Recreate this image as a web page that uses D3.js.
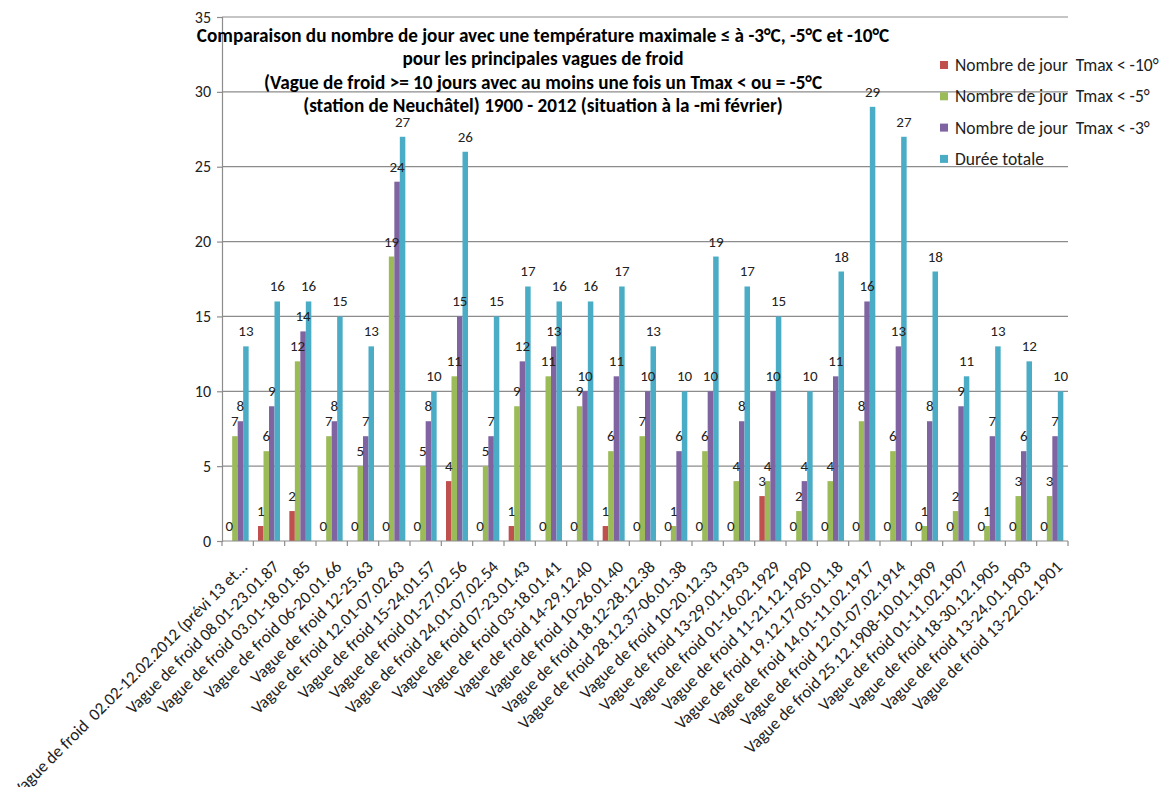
<!DOCTYPE html>
<html>
<head>
<meta charset="utf-8">
<script src="https://cdn.jsdelivr.net/npm/d3@7"></script>
<style>
  body { margin: 0; background: #fff; }
  svg { font-family: Carlito, Calibri, Lato, sans-serif; }
  text { white-space: pre; }
</style>
</head>
<body>
<div id="vis"></div>
<script>
const width = 1163;
const height = 787;

// categories (vagues de froid)
const categories = [
  'Vague de froid  02.02-12.02.2012 (prévi 13 et...',
  'Vague de froid 08.01-23.01.87',
  'Vague de froid 03.01-18.01.85',
  'Vague de froid 06-20.01.66',
  'Vague de froid 12-25.63',
  'Vague de froid 12.01-07.02.63',
  'Vague de froid 15-24.01.57',
  'Vague de froid 01-27.02.56',
  'Vague de froid 24.01-07.02.54',
  'Vague de froid 07-23.01.43',
  'Vague de froid 03-18.01.41',
  'Vague de froid 14-29.12.40',
  'Vague de froid 10-26.01.40',
  'Vague de froid 18.12-28.12.38',
  'Vague de froid 28.12.37-06.01.38',
  'Vague de froid 10-20.12.33',
  'Vague de froid 13-29.01.1933',
  'Vague de froid 01-16.02.1929',
  'Vague de froid 11-21.12.1920',
  'Vague de froid 19.12.17-05.01.18',
  'Vague de froid 14.01-11.02.1917',
  'Vague de froid 12.01-07.02.1914',
  'Vague de froid 25.12.1908-10.01.1909',
  'Vague de froid 01-11.02.1907',
  'Vague de froid 18-30.12.1905',
  'Vague de froid 13-24.01.1903',
  'Vague de froid 13-22.02.1901'
];

// series values
const jours10 = [0, 1, 2, 0, 0, 0, 0, 4, 0, 1, 0, 0, 1, 0, 0, 0, 0, 3, 0, 0, 0, 0, 0, 0, 0, 0, 0];
const jours5  = [7, 6, 12, 7, 5, 19, 5, 11, 5, 9, 11, 9, 6, 7, 1, 6, 4, 4, 2, 4, 8, 6, 1, 2, 1, 3, 3];
const jours3  = [8, 9, 14, 8, 7, 24, 8, 15, 7, 12, 13, 10, 11, 10, 6, 10, 8, 10, 4, 11, 16, 13, 8, 9, 7, 6, 7];
const duree   = [13, 16, 16, 15, 13, 27, 10, 26, 15, 17, 16, 16, 17, 13, 10, 19, 17, 15, 10, 18, 29, 27, 18, 11, 13, 12, 10];

const seriesNames = [
  'Nombre de jour  Tmax < -10°',
  'Nombre de jour  Tmax < -5°',
  'Nombre de jour  Tmax < -3°',
  'Durée totale'
];
const seriesValues = [jours10, jours5, jours3, duree];
const colors = ['#C0504D', '#9BBB59', '#8064A2', '#4BACC6'];

const yTicks = [0, 5, 10, 15, 20, 25, 30, 35];

const titleLines = [
  'Comparaison du nombre de jour avec une température maximale ≤ à -3°C, -5°C et -10°C',
  'pour les principales vagues de froid',
  '(Vague de froid >= 10 jours avec au moins une fois un Tmax < ou = -5°C',
  '(station de Neuchâtel) 1900 - 2012 (situation à la -mi février)'
];

const svg = d3.select('#vis')
  .append('svg')
  .attr('width', width)
  .attr('height', height);

const x0 = d3.scaleBand()
  .domain(categories)
  .range([222, 1068]);

const x1 = d3.scaleBand()
  .domain(d3.range(4))
  .range([0, x0.bandwidth()])
  .paddingOuter(0.85);

const y = d3.scaleLinear()
  .domain([0, 35])
  .range([541, 17]);

// gridlines
svg.append('g')
  .selectAll('line')
  .data(yTicks.slice(1))
  .join('line')
  .attr('x1', 222)
  .attr('x2', 1068)
  .attr('y1', d => y(d))
  .attr('y2', d => y(d))
  .style('stroke', '#8c8c8c')
  .style('stroke-width', 1.2);

// y axis
const yAxis = svg.append('g')
  .attr('transform', 'translate(222,0)')
  .call(d3.axisLeft(y).tickValues(yTicks).tickSize(5).tickPadding(6));
yAxis.select('.domain').style('stroke', '#8c8c8c').style('stroke-width', 1.2);
yAxis.selectAll('.tick line').style('stroke', '#8c8c8c').style('stroke-width', 1.2);
yAxis.selectAll('.tick text')
  .style('font-family', 'Carlito, Calibri, Lato, sans-serif')
  .style('font-size', '16px')
  .style('fill', '#222');

// bars
const groups = svg.append('g')
  .selectAll('g')
  .data(categories)
  .join('g')
  .attr('transform', d => `translate(${x0(d)},0)`);

groups.selectAll('rect')
  .data((d, i) => seriesValues.map((s, k) => ({k: k, v: s[i]})))
  .join('rect')
  .attr('x', d => x1(d.k))
  .attr('width', x1.bandwidth())
  .attr('y', d => y(d.v))
  .attr('height', d => y(0) - y(d.v))
  .style('fill', d => colors[d.k]);

// value labels
groups.selectAll('text')
  .data((d, i) => seriesValues.map((s, k) => ({k: k, v: s[i]})))
  .join('text')
  .attr('x', d => x1(d.k) + x1.bandwidth() / 2)
  .attr('y', d => y(d.v) - 10)
  .attr('text-anchor', 'middle')
  .style('font-size', '15px')
  .style('fill', '#222')
  .text(d => d.v);

// x axis line and ticks between categories
svg.append('line')
  .attr('x1', 222).attr('x2', 1068)
  .attr('y1', y(0)).attr('y2', y(0))
  .style('stroke', '#8c8c8c')
  .style('stroke-width', 1.2);

svg.append('g')
  .selectAll('line')
  .data(categories.map(c => x0(c)).concat([x0.range()[1]]))
  .join('line')
  .attr('x1', d => d).attr('x2', d => d)
  .attr('y1', y(0)).attr('y2', y(0) + 5)
  .style('stroke', '#8c8c8c')
  .style('stroke-width', 1.2);

// category labels, rotated
svg.append('g')
  .selectAll('text')
  .data(categories)
  .join('text')
  .attr('transform', d => `translate(${x0(d) + x0.bandwidth() / 2 + 11},${y(0) + 27}) rotate(-45)`)
  .attr('text-anchor', 'end')
  .style('font-size', '17px')
  .style('fill', '#222')
  .text(d => d);

// title
svg.append('g')
  .selectAll('text')
  .data(titleLines)
  .join('text')
  .attr('x', 543)
  .attr('y', (d, i) => 41.5 + i * 23.5)
  .attr('text-anchor', 'middle')
  .style('font-size', '19.2px')
  .style('font-weight', 'bold')
  .style('fill', '#000')
  .text(d => d);

// legend
const legend = svg.append('g')
  .selectAll('g')
  .data(seriesNames)
  .join('g')
  .attr('transform', (d, i) => `translate(940,${65 + i * 31.3})`);

legend.append('rect')
  .attr('x', 0)
  .attr('y', -4)
  .attr('width', 8)
  .attr('height', 8)
  .style('fill', (d, i) => colors[i]);

legend.append('text')
  .attr('x', 15)
  .attr('y', 6)
  .style('font-size', '17.5px')
  .style('fill', '#222')
  .text(d => d);
</script>
</body>
</html>
